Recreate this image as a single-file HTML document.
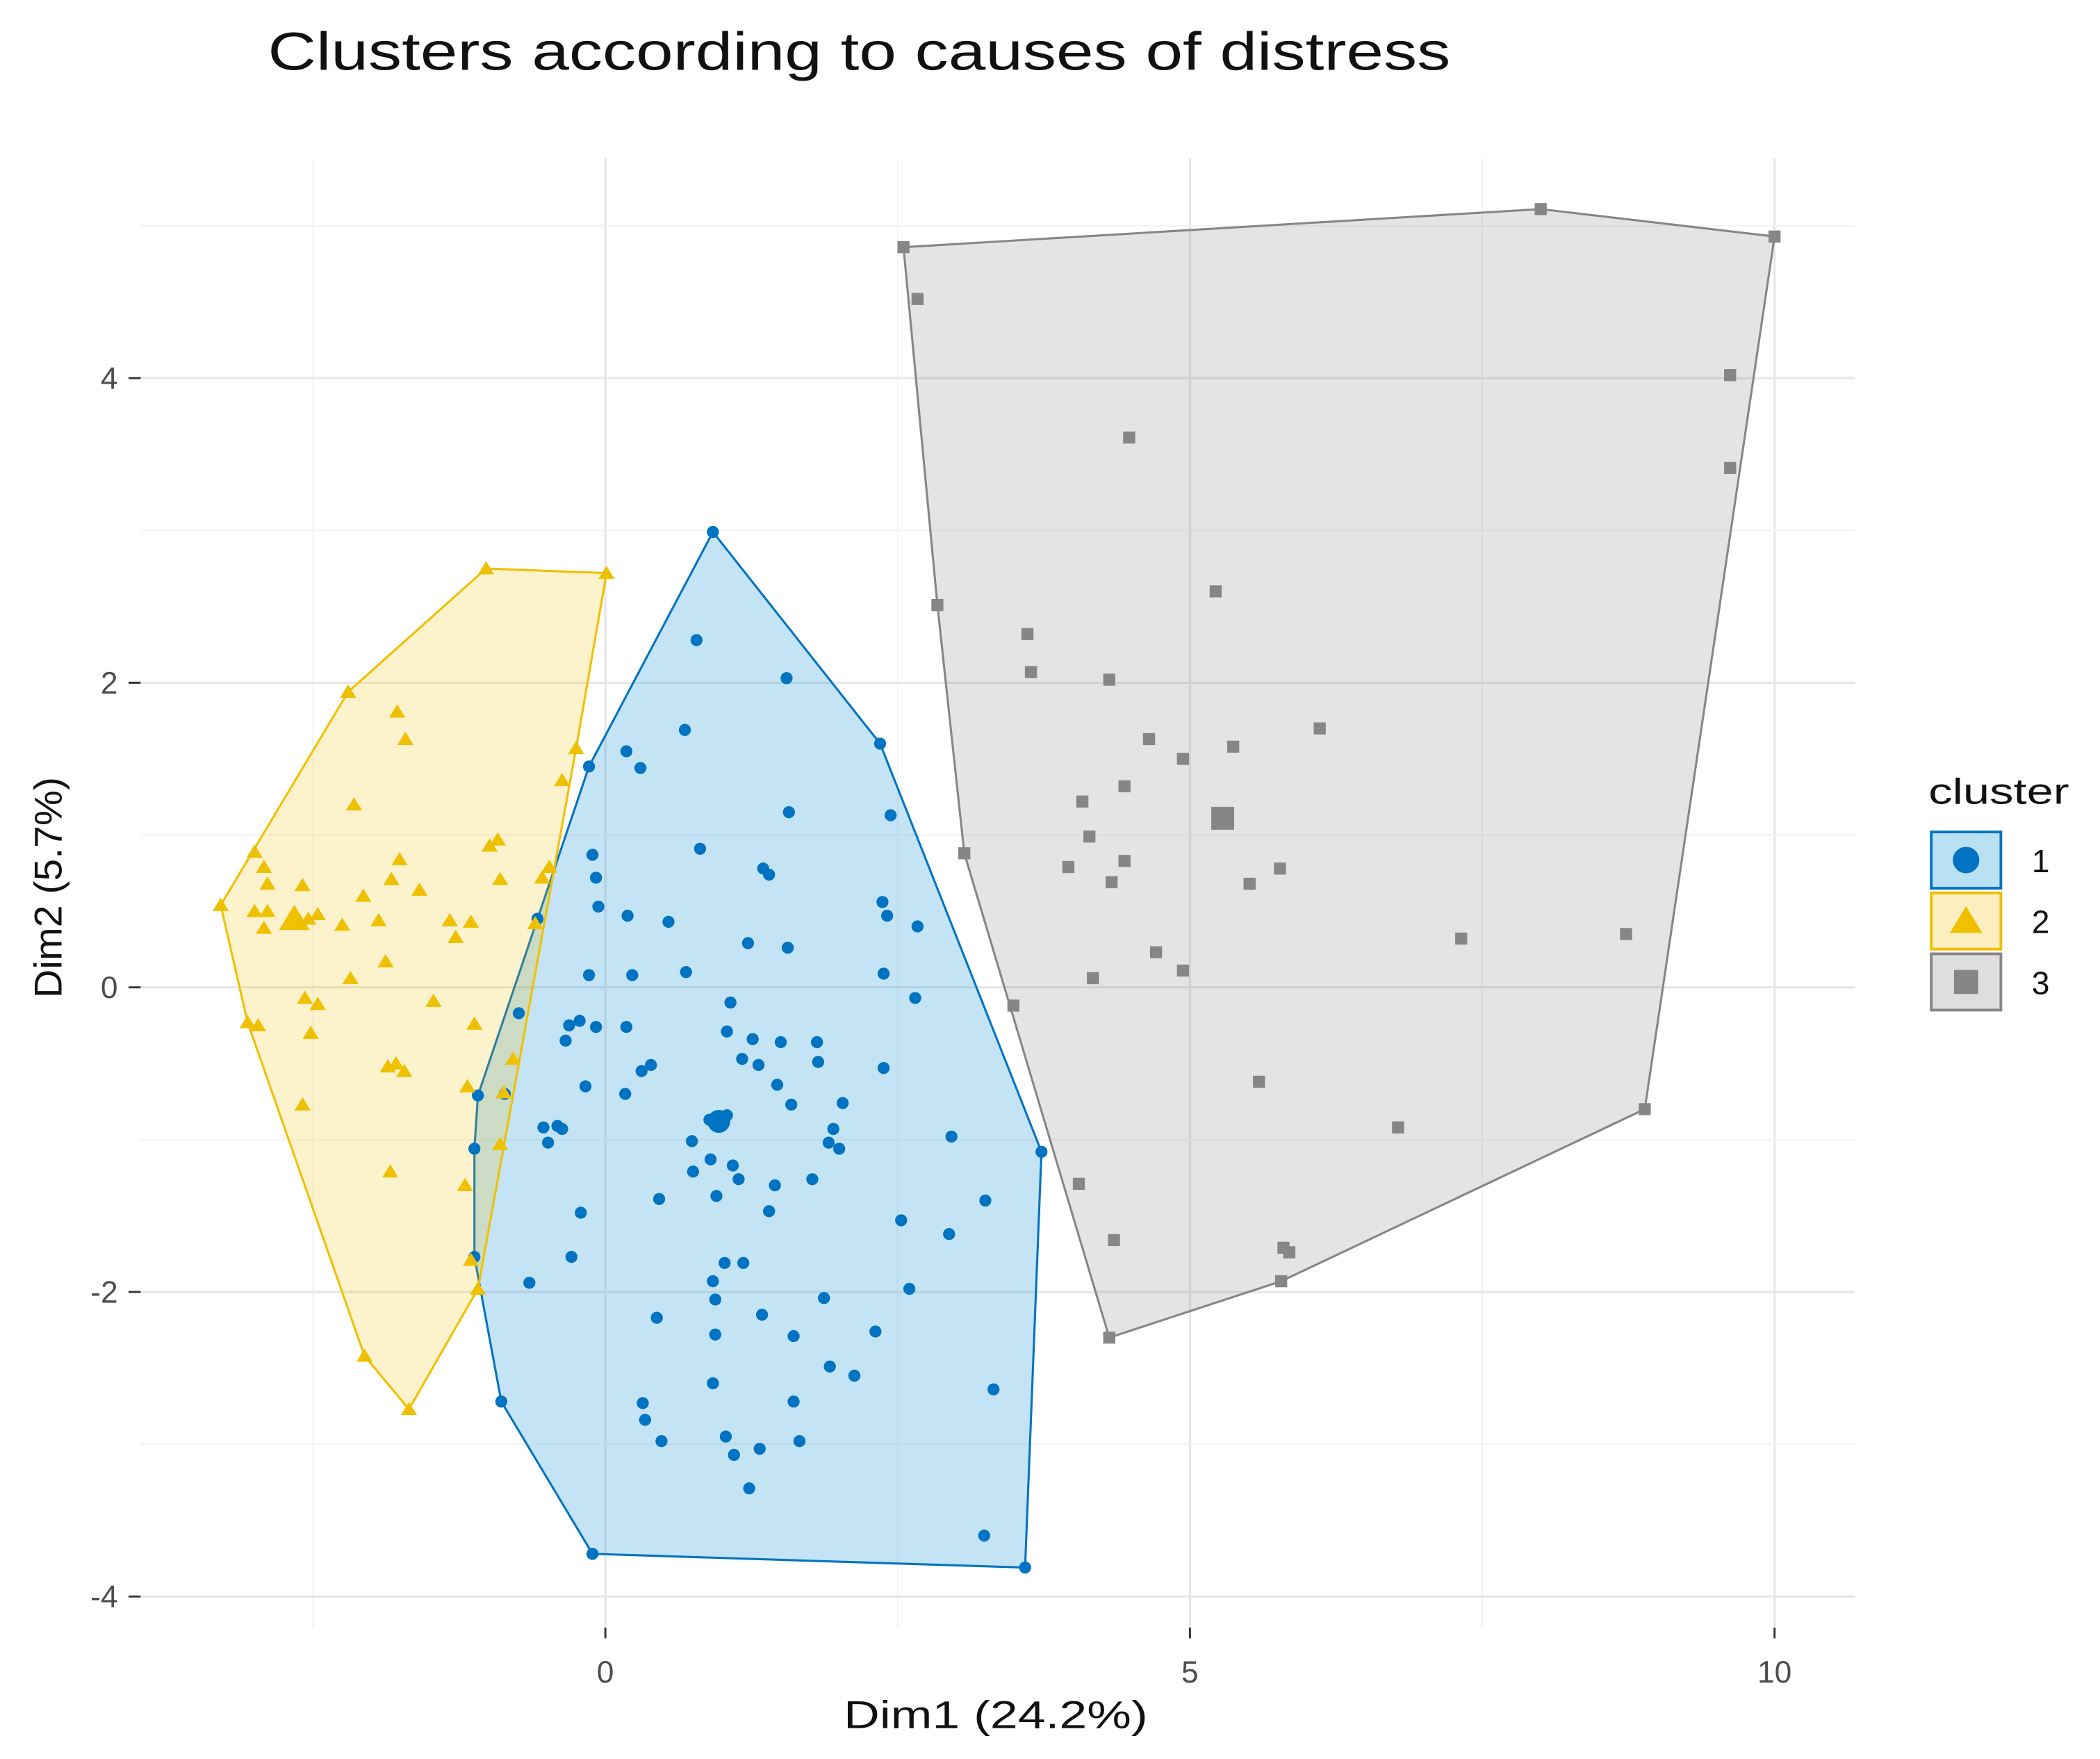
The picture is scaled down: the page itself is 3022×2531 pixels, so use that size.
<!DOCTYPE html>
<html><head><meta charset="utf-8"><style>
html,body{margin:0;padding:0;background:#fff;}
svg{display:block;font-family:"Liberation Sans",Arial,sans-serif;}
</style></head><body>
<svg id="chart" width="3022" height="2531" viewBox="0 0 1568 1313" xmlns="http://www.w3.org/2000/svg">
<rect width="1568" height="1313" fill="#fff"/>
<text x="200" y="52" font-size="40" fill="#111" textLength="883" lengthAdjust="spacingAndGlyphs">Clusters according to causes of distress</text>
<g id="grid"></g>
<g id="axes"></g>
<g id="marks"></g>
<text x="630" y="1290" font-size="29" fill="#111" textLength="227" lengthAdjust="spacingAndGlyphs">Dim1 (24.2%)</text>
<text transform="translate(46,745) rotate(-90)" font-size="29" fill="#111" textLength="165" lengthAdjust="spacingAndGlyphs">Dim2 (5.7%)</text>
<g id="legend">
<text x="1440" y="600" font-size="27" fill="#111" textLength="105" lengthAdjust="spacingAndGlyphs">cluster</text>
</g>
</svg>
<script>
// ---- data ----
const c1x=[0.92,0.78,1.55,2.35,0.68,0.18,0.30,-0.14,1.57,2.44,0.81,-0.11,1.35,1.40,-0.08,-0.06,0.19,0.54,2.37,2.41,2.67,-0.58,1.22,1.56,0.23,0.69,-0.14,2.38,1.07,2.65,-0.74,-0.31,-0.22,-0.08,0.18,-0.34,1.04,1.26,1.50,1.81,0.39,0.31,1.17,1.31,1.82,2.38,-0.17,1.47,-1.09,-0.86,0.17,1.59,2.03,0.89,0.97,1.04,-0.41,-0.53,-0.37,0.74,-0.49,1.95,1.91,2.96,2.00,3.73,0.90,1.09,0.75,1.14,1.45,1.77,0.46,0.95,1.40,3.25,-0.21,2.53,2.94,-1.12,-0.29,1.02,1.18,-0.65,0.92,0.94,1.87,2.60,0.44,1.34,0.94,1.61,2.31,2.13,1.92,0.32,-0.89,0.92,1.61,3.32,0.34,0.48,1.03,1.66,1.10,1.32,1.23,-0.11,3.24,3.59,-1.12];
const c1y=[2.99,2.28,2.03,1.60,1.69,1.55,1.44,1.45,1.15,1.13,0.91,0.87,0.78,0.74,0.72,0.53,0.47,0.43,0.56,0.47,0.40,0.45,0.29,0.26,0.08,0.10,0.08,0.09,-0.10,-0.07,-0.17,-0.25,-0.22,-0.26,-0.26,-0.35,-0.29,-0.34,-0.36,-0.36,-0.51,-0.55,-0.47,-0.51,-0.49,-0.53,-0.65,-0.64,-0.71,-0.70,-0.70,-0.77,-0.76,-0.87,-0.91,-0.84,-0.91,-0.92,-0.93,-1.01,-1.02,-0.93,-1.02,-0.98,-1.06,-1.08,-1.13,-1.17,-1.21,-1.26,-1.30,-1.26,-1.39,-1.37,-1.47,-1.40,-1.48,-1.53,-1.62,-1.77,-1.77,-1.81,-1.81,-1.94,-1.93,-2.05,-2.04,-1.98,-2.17,-2.15,-2.28,-2.29,-2.26,-2.55,-2.49,-2.73,-2.72,-2.60,-2.72,-2.64,-2.84,-2.98,-2.95,-2.98,-3.07,-3.03,-3.29,-3.72,-3.60,-3.81,-1.06];
const c2x=[-1.02,0.01,-2.20,-1.78,-1.71,-0.25,-0.37,-2.15,-3.00,-2.92,-0.92,-0.99,-1.76,-0.48,-3.29,-2.89,-2.59,-2.07,-1.83,-1.59,-0.90,-3.00,-2.89,-2.71,-2.66,-2.54,-2.46,-2.25,-1.94,-1.33,-1.15,-2.92,-1.28,-0.60,-2.18,-1.88,-2.57,-2.46,-1.47,-3.06,-2.97,-2.52,-1.86,-1.79,-1.72,-2.59,-1.12,-1.18,-0.87,-1.84,-1.20,-0.90,-1.15,-1.09,-2.06,-1.68,-0.79,-0.54];
const c2y=[2.75,2.72,1.94,1.81,1.63,1.57,1.36,1.20,0.89,0.79,0.97,0.93,0.84,0.79,0.54,0.68,0.67,0.60,0.71,0.64,0.71,0.50,0.50,0.43,0.45,0.45,0.48,0.41,0.44,0.44,0.43,0.39,0.33,0.42,0.06,0.17,-0.07,-0.11,-0.09,-0.23,-0.25,-0.30,-0.52,-0.50,-0.55,-0.77,-0.24,-0.65,-0.69,-1.21,-1.30,-1.03,-1.79,-1.98,-2.42,-2.77,-0.47,0.72];
const c3x=[2.55,2.67,8.0,10.0,9.62,9.62,4.48,2.84,5.22,3.61,3.64,4.31,4.65,5.37,6.11,4.94,4.44,4.08,4.14,3.07,3.96,4.44,4.33,5.51,5.77,4.71,4.94,4.17,7.32,8.73,3.49,5.59,8.89,6.78,4.05,4.35,5.80,5.85,5.78,4.31];
const c3y=[4.86,4.52,5.11,4.93,4.02,3.41,3.61,2.51,2.60,2.32,2.07,2.02,1.63,1.58,1.70,1.50,1.32,1.22,0.99,0.88,0.79,0.83,0.69,0.68,0.78,0.23,0.11,0.06,0.32,0.35,-0.12,-0.62,-0.80,-0.92,-1.29,-1.66,-1.71,-1.74,-1.93,-2.30];
const centerX=[0.97,-2.66,5.28];
const centerY=[-0.88,0.45,1.11];
const xTicks=[0,5,10];
const xTickLabels=["0","5","10"];
const yTicks=[-4,-2,0,2,4];
const yTickLabels=["-4","-2","0","2","4"];
const clusterLabels=["1","2","3"];

// ---- scales ----
const X0=105,X1=1385,Y0=118,Y1=1215;
const xs=v=>452+87.3*v;
const ys=v=>737-113.7*v;
const NS="http://www.w3.org/2000/svg";
function mk(tag,attrs,parent){const e=document.createElementNS(NS,tag);for(const k in attrs)e.setAttribute(k,attrs[k]);parent.appendChild(e);return e;}
const grid=document.getElementById('grid'),axes=document.getElementById('axes'),marks=document.getElementById('marks'),legend=document.getElementById('legend');

for(let v=-2.5;v<=10.5;v+=2.5){const major=(v%5===0);
 const l=mk('line',{x1:xs(v),x2:xs(v),y1:Y0,y2:Y1,stroke:major?'#e6e6e6':'#f2f2f2','stroke-width':major?1.6:1},grid);
 
 }
for(let v=-4;v<=5;v+=1){const major=(v%2===0);
 const l=mk('line',{x1:X0,x2:X1,y1:ys(v),y2:ys(v),stroke:major?'#e6e6e6':'#f2f2f2','stroke-width':major?1.6:1},grid);
 
 }
xTicks.forEach((v,i)=>{
 const t=mk('line',{x1:xs(v),x2:xs(v),y1:Y1,y2:Y1+8,stroke:'#333','stroke-width':1.5},axes);
 
 
 const tx=mk('text',{x:xs(v),y:1256,'font-size':23,fill:'#4d4d4d','text-anchor':'middle'},axes);tx.textContent=xTickLabels[i];
 
 });
yTicks.forEach((v,i)=>{
 const t=mk('line',{x1:X0-9,x2:X0,y1:ys(v),y2:ys(v),stroke:'#333','stroke-width':1.5},axes);
 
 
 const tx=mk('text',{x:88,y:ys(v)+8,'font-size':23,fill:'#4d4d4d','text-anchor':'end'},axes);tx.textContent=yTickLabels[i];
 
 });

function hull(px,py){const p=px.map((x,i)=>[x,py[i]]).sort((a,b)=>a[0]-b[0]||a[1]-b[1]);
 const cr=(o,a,b)=>(a[0]-o[0])*(b[1]-o[1])-(a[1]-o[1])*(b[0]-o[0]);
 const lo=[],up=[];for(const q of p){while(lo.length>=2&&cr(lo[lo.length-2],lo[lo.length-1],q)<=0)lo.pop();lo.push(q);}
 for(let i=p.length-1;i>=0;i--){const q=p[i];while(up.length>=2&&cr(up[up.length-2],up[up.length-1],q)<=0)up.pop();up.push(q);}
 up.pop();lo.pop();return lo.concat(up);}

const clusters=[{x:c1x,y:c1y,col:'#0073C2',fill:'#3aa6e0',op:0.3,shape:'circle'},{x:c2x,y:c2y,col:'#EFC000',fill:'#EFC000',op:0.2,shape:'triangle'},{x:c3x,y:c3y,col:'#868686',fill:'#868686',op:0.22,shape:'square'}];
function marker(shape,cx,cy,s,col,parent){
 if(shape==='circle')return mk('circle',{cx:cx,cy:cy,r:4.5*s,fill:col},parent);
 if(shape==='square')return mk('rect',{x:cx-4.5*s,y:cy-4.5*s,width:9*s,height:9*s,fill:col},parent);
 const h=5.5*s;return mk('polygon',{points:`${cx},${cy-h} ${cx-h*1.1},${cy+h*0.8} ${cx+h*1.1},${cy+h*0.8}`,fill:col},parent);}

clusters.forEach((c,ci)=>{
 const h=hull(c.x,c.y);
 const poly=mk('polygon',{points:h.map(p=>xs(p[0])+','+ys(p[1])).join(' '),fill:c.fill,'fill-opacity':c.op,stroke:c.col,'stroke-width':1.6},marks);
 
 
});
clusters.forEach((c,ci)=>{
 c.x.forEach((v,i)=>{const m=marker(c.shape,xs(v),ys(c.y[i]),1,c.col,marks);
  
  });
 const m=marker(c.shape,xs(centerX[ci]),ys(centerY[ci]),1.9,c.col,marks);
 
 
});
clusters.forEach((c,i)=>{const y=620+i*45.5;
 const g=mk('g',{},legend);
 
 
 mk('rect',{x:1441,y:y,width:54,height:44,fill:'#fff'},g);
 mk('rect',{x:1442,y:y+1,width:52,height:42,fill:c.fill,'fill-opacity':c.op+0.05,stroke:c.col,'stroke-width':2},g);
 marker(c.shape,1468,y+22,c.shape==='circle'?2.2:2.0,c.col,g);
 const t=mk('text',{x:1517,y:y+31,'font-size':24,fill:'#111'},g);t.textContent=clusterLabels[i];
});
</script>
</body></html>
